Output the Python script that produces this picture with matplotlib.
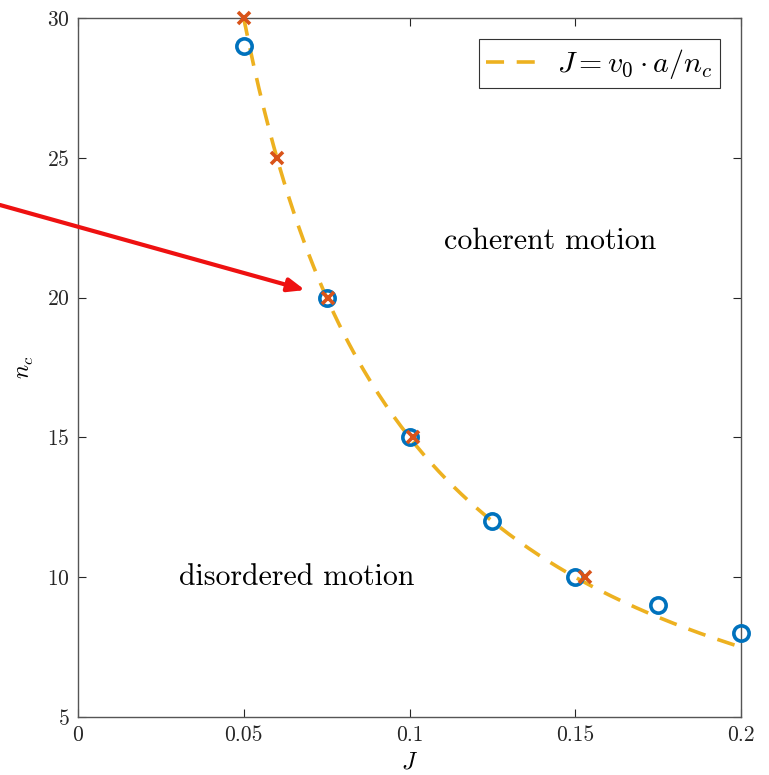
import numpy as np
import matplotlib
matplotlib.use("Agg")
import matplotlib.pyplot as plt

plt.rcParams['font.family'] = 'serif'
plt.rcParams['font.serif'] = ['cmr10']
plt.rcParams['mathtext.fontset'] = 'cm'
plt.rcParams['axes.formatter.use_mathtext'] = True

# data
circle_J = [0.05, 0.075, 0.1, 0.125, 0.15, 0.175, 0.2]
circle_nc = [29, 20, 15, 12, 10, 9, 8]
cross_J = [0.05, 0.06, 0.0755, 0.101, 0.153]
cross_nc = [30, 25, 20, 15, 10]
v0a = 1.5  # fitted v0 * a
curve_J = np.linspace(0.05, 0.2, 200)
curve_nc = v0a / curve_J

xticks = [0, 0.05, 0.1, 0.15, 0.2]
xticklabels = ['0', '0.05', '0.1', '0.15', '0.2']
yticks = [5, 10, 15, 20, 25, 30]

blue = '#0072BD'
orange = '#D95319'
yellow = '#EDB120'

fig = plt.figure(figsize=(7.69, 7.75), dpi=100)
ax = fig.add_axes([78/769, 1-717/775, (741-78)/769, (717-18)/775])

ax.plot(curve_J, curve_nc, '--', color=yellow, lw=2.6, dashes=(5, 3.5),
        label=r'$J = v_0 \cdot a/n_c$', zorder=2)
ax.plot(circle_J, circle_nc, 'o', ms=11, mfc='none', mec=blue, mew=2.6,
        zorder=3, clip_on=False)
ax.plot(cross_J, cross_nc, 'x', ms=8, mec=orange, mew=2.6, zorder=4,
        clip_on=False)

ax.set_xlim(0, 0.2)
ax.set_ylim(5, 30)
ax.set_xticks(xticks)
ax.set_xticklabels(xticklabels)
ax.set_yticks(yticks)
ax.tick_params(direction='in', top=True, right=True, length=6, width=0.8,
               labelsize=15.5, colors='#262626', pad=6)
for s in ax.spines.values():
    s.set_color('#555555')
    s.set_linewidth(1.0)

ax.set_xlabel(r'$J$', fontsize=17, labelpad=5)
ax.set_ylabel(r'$n_c$', fontsize=17, labelpad=8)

ax.text(0.1424, 22.0, 'coherent motion', fontsize=21.5, ha='center', va='center')
ax.text(0.066, 10.0, 'disordered motion', fontsize=21.5, ha='center', va='center')

ax.annotate('', xy=(0.0685, 20.27), xycoords='data',
            xytext=(0.0, 1-205/775), textcoords='figure fraction',
            arrowprops=dict(arrowstyle='-|>,head_length=1.0,head_width=0.4',
                            color='#EE1111', lw=3, shrinkA=0, shrinkB=0),
            annotation_clip=False, zorder=5)

leg = ax.legend(loc='upper right', fontsize=21.5, fancybox=False,
                edgecolor='#333333', framealpha=1, handlelength=1.8,
                borderaxespad=0.72, borderpad=0.25, handletextpad=0.55)
leg.get_frame().set_linewidth(0.8)

fig.savefig('out.png', dpi=100)
